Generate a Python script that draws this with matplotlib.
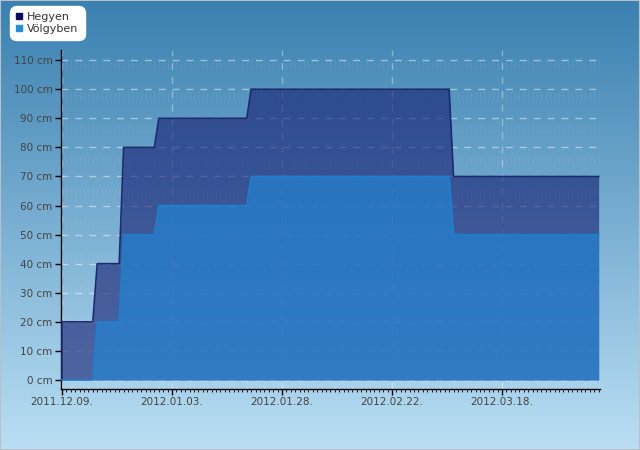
import numpy as np
import matplotlib
matplotlib.use("Agg")
import matplotlib.pyplot as plt
import matplotlib.dates as mdates
from matplotlib.lines import Line2D
from matplotlib.patches import Rectangle

# ---- data ----
hegyen_dates = ['2011-12-09', '2011-12-16', '2011-12-17', '2011-12-22', '2011-12-23',
                '2011-12-30', '2011-12-31', '2012-01-20', '2012-01-21', '2012-03-06',
                '2012-03-07', '2012-04-09']
hegyen_vals = [20, 20, 40, 40, 80, 80, 90, 90, 100, 100, 70, 70]

volgy_dates = ['2011-12-09', '2011-12-16', '2011-12-17', '2011-12-22', '2011-12-23',
               '2011-12-30', '2011-12-31', '2012-01-20', '2012-01-21', '2012-03-06',
               '2012-03-07', '2012-04-09']
volgy_vals = [0, 0, 20, 20, 50, 50, 60, 60, 70, 70, 50, 50]

tick_dates = ['2011-12-09', '2012-01-03', '2012-01-28', '2012-02-22', '2012-03-18']
y_ticks = [0, 10, 20, 30, 40, 50, 60, 70, 80, 90, 100, 110]
series_names = ['Hegyen', 'Völgyben']

# ---- figure ----
fig = plt.figure(figsize=(6.4, 4.5), dpi=100)

# background gradient
bg = fig.add_axes([0, 0, 1, 1], zorder=-10)
top = np.array([58, 128, 176]) / 255.0
bot = np.array([186, 223, 244]) / 255.0
t = np.linspace(0, 1, 256)[:, None]
grad = (top[None, :] * (1 - t) + bot[None, :] * t)[:, None, :]
bg.imshow(grad, aspect='auto', extent=[0, 1, 0, 1], origin='upper')
bg.set_xlim(0, 1); bg.set_ylim(0, 1)
bg.axis('off')

ax = fig.add_axes([61 / 640, 61 / 450, 539 / 640, 339 / 450])
ax.set_facecolor('none')

hd = np.array(hegyen_dates, dtype='datetime64[D]').astype('datetime64[ms]').astype(object)
vd = np.array(volgy_dates, dtype='datetime64[D]').astype('datetime64[ms]').astype(object)
hx = mdates.date2num(hd)
vx = mdates.date2num(vd)

ax.fill_between(hx, 0, hegyen_vals, color='#141c70', alpha=0.6, linewidth=0, zorder=2)
ax.plot(hx, hegyen_vals, color='#1c2a6e', linewidth=1.2, zorder=3)
ax.plot([hx[0], hx[0]], [0, hegyen_vals[0]], color='#1c2a6e', linewidth=1.2, zorder=3)
ax.fill_between(vx, 0, volgy_vals, color='#1f8ad8', alpha=0.62, linewidth=0, zorder=4)
ax.plot(vx, volgy_vals, color='#1f7fcf', linewidth=1.2, zorder=5)

x0 = hx[0]
ax.set_xlim(x0 - 0.23, x0 + 122.3)
ax.set_ylim(-3.1, 113.5)

# grids
for yv in y_ticks:
    ax.axhline(yv, color='white', alpha=0.45, linewidth=1, linestyle=(0, (5, 5)), zorder=1)
tx = mdates.date2num(np.array(tick_dates, dtype='datetime64[D]').astype('datetime64[ms]').astype(object))
for xv in tx:
    ax.axvline(xv, color='white', alpha=0.35, linewidth=1, linestyle=(0, (5, 5)), zorder=1)
for d in range(0, 123):
    ax.axvline(x0 + d, color='white', alpha=0.06, linewidth=1, linestyle=(0, (7, 16)), zorder=1)

# axes styling
for s in ['top', 'right']:
    ax.spines[s].set_visible(False)
ax.spines['left'].set_color('black')
ax.spines['bottom'].set_color('black')
ax.spines['left'].set_linewidth(1)
ax.spines['bottom'].set_linewidth(1)

ax.set_yticks(y_ticks)
ax.set_yticklabels([f"{v} cm" for v in y_ticks])
ax.set_xticks(tx)
ax.xaxis.set_major_formatter(mdates.DateFormatter('%Y.%m.%d.'))
ax.set_xticks(x0 + np.arange(0, 123), minor=True)
ax.tick_params(axis='both', which='major', direction='out', length=4, width=1,
               colors='black', labelcolor='#444444', labelsize=7.5, pad=2)
ax.tick_params(axis='x', which='minor', direction='out', length=2, width=0.6, colors='black')
ax.tick_params(axis='y', which='minor', left=False)

# legend
handles = [Line2D([], [], marker='s', linestyle='none', markersize=5, color='#0b0b5e'),
           Line2D([], [], marker='s', linestyle='none', markersize=5, color='#1e8fdc')]
leg = fig.legend(handles, series_names, loc='upper left', bbox_to_anchor=(10 / 640, 1 - 6 / 450),
                 fontsize=8, frameon=True, fancybox=True, facecolor='white', edgecolor='white',
                 framealpha=1, handlelength=0.6, handletextpad=0.4, borderpad=0.55,
                 labelspacing=0.2, borderaxespad=0)
for txt in leg.get_texts():
    txt.set_color('#333333')
leg.get_frame().set_boxstyle('round,pad=0.0,rounding_size=0.6')

# border
fig.patches.append(Rectangle((0, 0), 1, 1, transform=fig.transFigure, fill=False,
                             edgecolor='#b8c0c8', linewidth=1.5))

fig.savefig('out.png', dpi=100)
